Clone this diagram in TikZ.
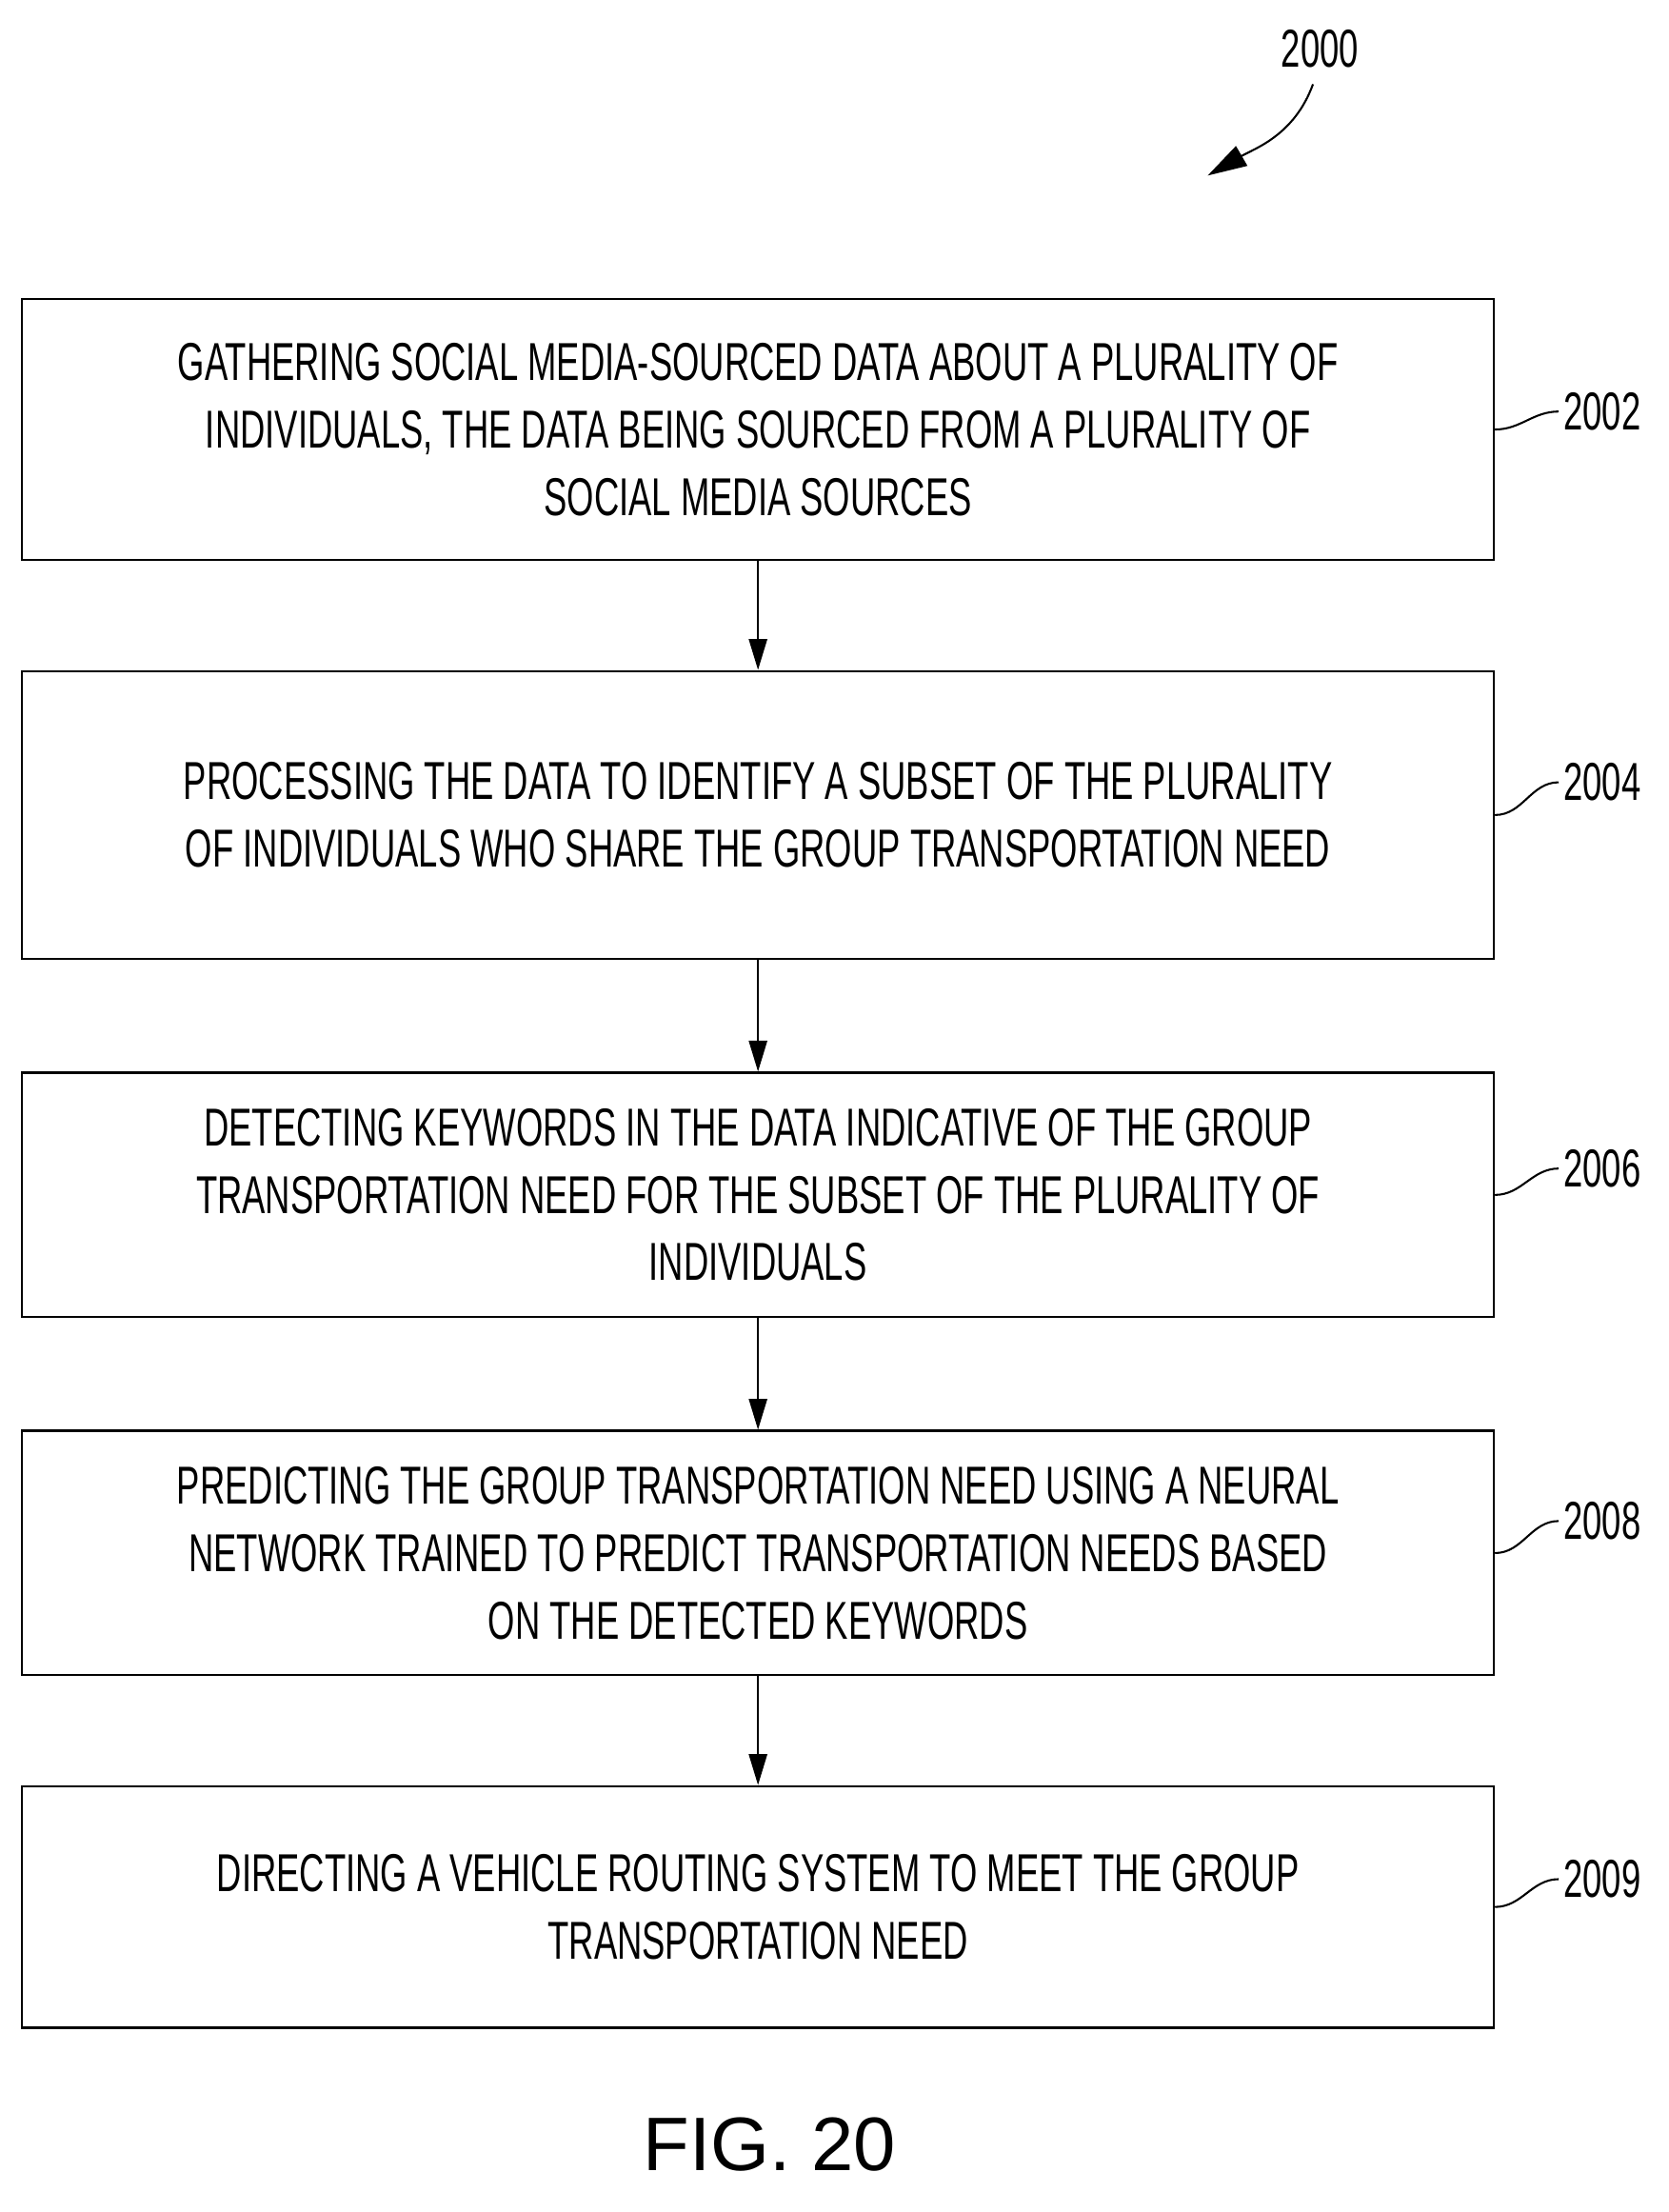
\documentclass[tikz,border=0pt]{standalone}
\usepackage{fontspec}
\setmainfont{Liberation Sans}[FakeStretch=0.65]
\newfontfamily\figfont{Liberation Sans}
\usetikzlibrary{positioning,arrows.meta}
\tikzset{
    stepbox/.style={draw, line width=1.6pt, minimum width=1048pt, anchor=north west,
        align=center, font=\fontsize{38}{48}\selectfont, inner sep=0pt},
    ref/.style={font=\fontsize{38}{38}\selectfont, anchor=west},
    flow/.style={-{Triangle[length=22pt,width=13pt]}, line width=1.4pt},
    lead/.style={line width=1.4pt}
}
\begin{document}
\begin{tikzpicture}[x=1pt,y=-1pt]
    \useasboundingbox (0,0) rectangle (1188,1575);
    \node (t0) at (940,35) {\fontsize{38}{38}\selectfont 2000};
    \coordinate (c0) at (860,125);
    \draw[-{Triangle[length=28pt,width=16pt]}, line width=1.4pt] (t0.south) ++(-5,8) coordinate (c1) to[out=-110,in=30] (c0);

    \node[stepbox, minimum height=186pt] (s1) at (15,212)
            {GATHERING SOCIAL MEDIA-SOURCED DATA ABOUT A PLURALITY OF\\
             INDIVIDUALS, THE DATA BEING SOURCED FROM A PLURALITY OF\\
             SOCIAL MEDIA SOURCES};
    \node[stepbox, minimum height=205pt] (s2) at (15,477)
            {PROCESSING THE DATA TO IDENTIFY A SUBSET OF THE PLURALITY\\
             OF INDIVIDUALS WHO SHARE THE GROUP TRANSPORTATION NEED};
    \node[stepbox, minimum height=174pt] (s3) at (15,763)
            {DETECTING KEYWORDS IN THE DATA INDICATIVE OF THE GROUP\\
             TRANSPORTATION NEED FOR THE SUBSET OF THE PLURALITY OF\\
             INDIVIDUALS};
    \node[stepbox, minimum height=174pt] (s4) at (15,1018)
            {PREDICTING THE GROUP TRANSPORTATION NEED USING A NEURAL\\
             NETWORK TRAINED TO PREDICT TRANSPORTATION NEEDS BASED\\
             ON THE DETECTED KEYWORDS};
    \node[stepbox, minimum height=172pt] (s5) at (15,1271)
            {DIRECTING A VEHICLE ROUTING SYSTEM TO MEET THE GROUP\\
             TRANSPORTATION NEED};

    \draw[flow] (s1.south) -- (s2.north);
    \draw[flow] (s2.south) -- (s3.north);
    \draw[flow] (s3.south) -- (s4.north);
    \draw[flow] (s4.south) -- (s5.north);

    % reference numerals
    \node[ref] (r1) at (1110,293) {2002};
    \node[ref] (r2) at (1110,557) {2004};
    \node[ref] (r3) at (1110,832) {2006};
    \node[ref] (r4) at (1110,1083) {2008};
    \node[ref] (r5) at (1110,1338) {2009};
    \draw[lead] (s1.east) to[out=0,in=180] (r1.west);
    \draw[lead] (s2.east) to[out=0,in=180] (r2.west);
    \draw[lead] (s3.east) to[out=0,in=180] (r3.west);
    \draw[lead] (s4.east) to[out=0,in=180] (r4.west);
    \draw[lead] (s5.east) to[out=0,in=180] (r5.west);

    \node (fig) at (548,1527) {\figfont\fontsize{54}{54}\selectfont FIG. 20};
\end{tikzpicture}
\end{document}
